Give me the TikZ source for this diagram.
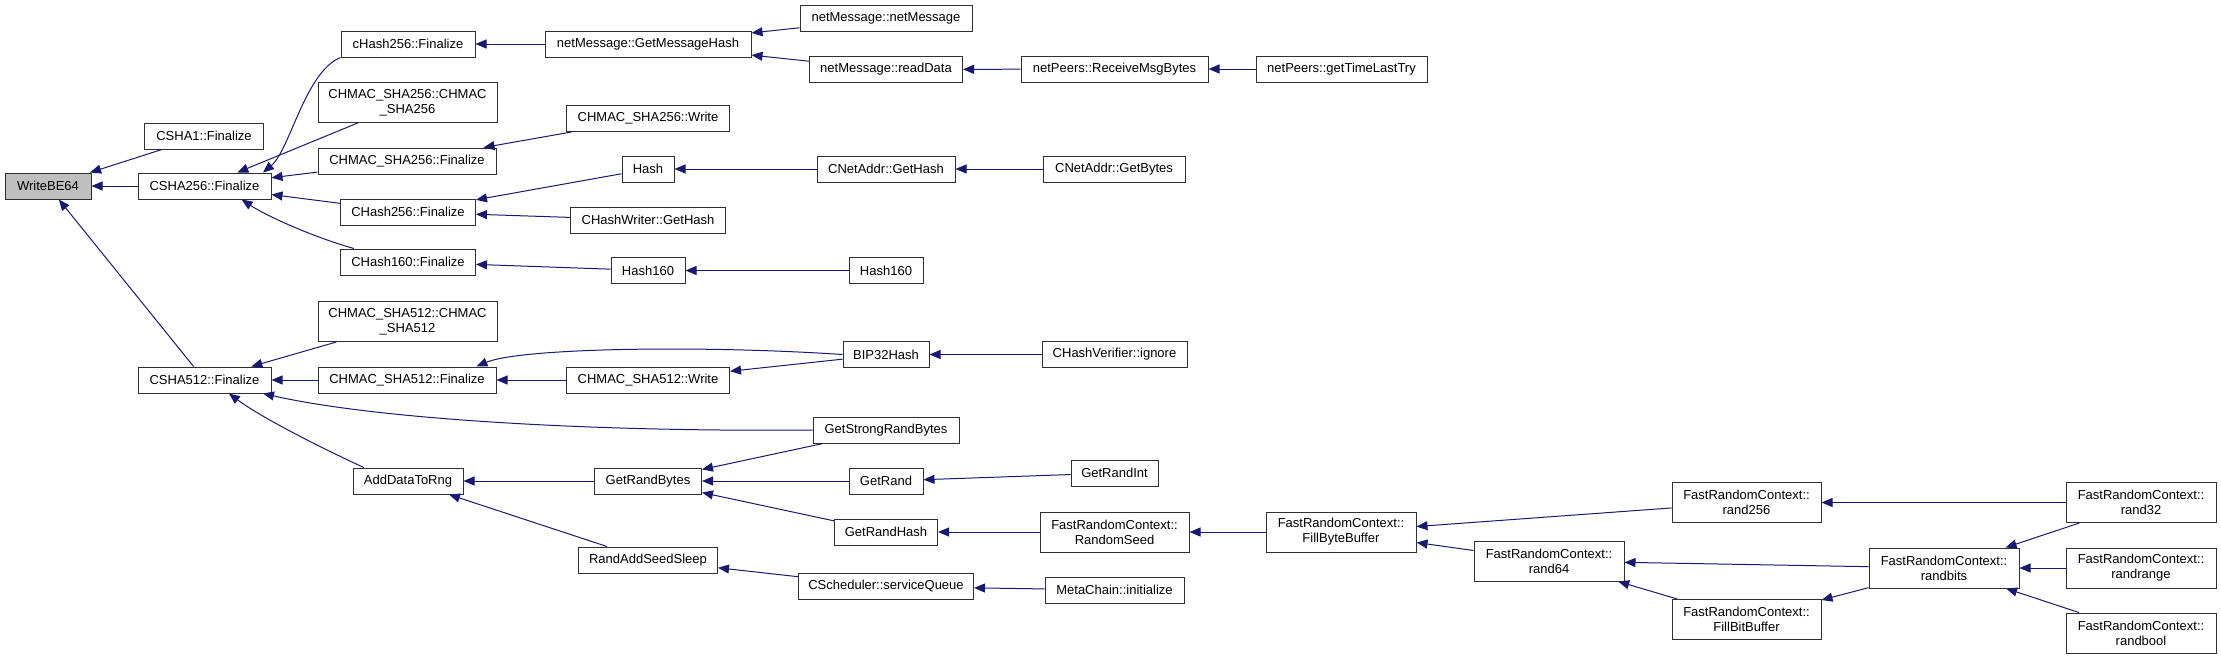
\documentclass[tikz,border=0pt]{standalone}
\usepackage{fontspec}
\setmainfont{Liberation Sans}
\usetikzlibrary{arrows.meta}
\definecolor{cgedge}{HTML}{191970}
\definecolor{cgroot}{HTML}{BFBFBF}
\definecolor{cgline}{HTML}{303030}

\begin{document}
\begin{tikzpicture}[
  x=1pt, y=-1pt,
  fn/.style={draw=cgline, line width=1pt, fill=white,
             font={\fontsize{13}{15}\selectfont}, align=center,
             inner sep=0pt, minimum height=26pt},
  fnroot/.style={fn, fill=cgroot},
  fntwo/.style={fn, minimum height=40pt},
  call/.style={-{Triangle[length=11pt,width=9pt]}, cgedge, line width=1pt},
]
\useasboundingbox (0,0) rectangle (2221,659);

%% ---- Spalte 1 und 2 ----
\node[fnroot, minimum width=86pt]  (writebe) at (48,186)    {WriteBE64};
\node[fn, minimum width=119pt]     (csha1)   at (204,136)   {CSHA1::Finalize};
\node[fn, minimum width=133pt]     (csha256) at (204.5,186) {CSHA256::Finalize};
\node[fn, minimum width=133pt]     (csha512) at (204.5,380) {CSHA512::Finalize};

%% ---- Spalte 3 ----
\node[fn, minimum width=134pt]    (chashlc)     at (408,44)      {cHash256::Finalize};
\node[fntwo, minimum width=179pt] (hmacctor)    at (407.5,102.5) {CHMAC\_SHA256::CHMAC\\\_SHA256};
\node[fn, minimum width=178pt]    (hmacfin)     at (407,161)     {CHMAC\_SHA256::Finalize};
\node[fn, minimum width=135pt]    (chash256)    at (408,212)     {CHash256::Finalize};
\node[fn, minimum width=135pt]    (chash160)    at (408,262)     {CHash160::Finalize};
\node[fntwo, minimum width=179pt] (hmac512ctor) at (407.5,321.5) {CHMAC\_SHA512::CHMAC\\\_SHA512};
\node[fn, minimum width=178pt]    (hmac512fin)  at (407,380)     {CHMAC\_SHA512::Finalize};
\node[fn, minimum width=110pt]    (adddata)     at (408,481)     {AddDataToRng};

%% ---- Spalte 4 ----
\node[fn, minimum width=206pt] (msghash)      at (648,44)    {netMessage::GetMessageHash};
\node[fn, minimum width=163pt] (hmacwrite)    at (648,118.5) {CHMAC\_SHA256::Write};
\node[fn, minimum width=52pt]  (hash)         at (648,169)   {Hash};
\node[fn, minimum width=155pt] (writerhash)   at (648,220)   {CHashWriter::GetHash};
\node[fn, minimum width=74pt]  (hashone)      at (648,270.5) {Hash160};
\node[fn, minimum width=163pt] (hmac512write) at (648,380)   {CHMAC\_SHA512::Write};
\node[fn, minimum width=107pt] (randbytes)    at (648,481)   {GetRandBytes};
\node[fn, minimum width=139pt] (seedsleep)    at (648,560)   {RandAddSeedSleep};

%% ---- Spalte 5 ----
\node[fn, minimum width=172pt] (netmsg)       at (886,18.5)  {netMessage::netMessage};
\node[fn, minimum width=153pt] (readdata)     at (886,69.5)  {netMessage::readData};
\node[fn, minimum width=138pt] (addrhash)     at (886,169)   {CNetAddr::GetHash};
\node[fn, minimum width=74pt]  (hashtwo)      at (886,270.5) {Hash160};
\node[fn, minimum width=86pt]  (bip32)        at (886,354.5) {BIP32Hash};
\node[fn, minimum width=146pt] (strongrand)   at (886,430)   {GetStrongRandBytes};
\node[fn, minimum width=74pt]  (getrand)      at (886,481)   {GetRand};
\node[fn, minimum width=103pt] (randhash)     at (886,532)   {GetRandHash};
\node[fn, minimum width=175pt] (servicequeue) at (886,586.5) {CScheduler::serviceQueue};

%% ---- Spalte 6 und 7 ----
\node[fn, minimum width=187pt]    (recvbytes)  at (1114.5,69)    {netPeers::ReceiveMsgBytes};
\node[fn, minimum width=142pt]    (addrbytes)  at (1114,169)     {CNetAddr::GetBytes};
\node[fn, minimum width=145pt]    (verifier)   at (1114.5,354.5) {CHashVerifier::ignore};
\node[fn, minimum width=87pt]     (randint)    at (1114.5,473)   {GetRandInt};
\node[fntwo, minimum width=149pt] (randomseed) at (1114.5,532)   {FastRandomContext::\\RandomSeed};
\node[fn, minimum width=139pt]    (metainit)   at (1114.5,590)   {MetaChain::initialize};
\node[fn, minimum width=171pt]    (lasttry)    at (1341.5,69)    {netPeers::getTimeLastTry};
\node[fntwo, minimum width=150pt] (fillbyte)   at (1341,532)     {FastRandomContext::\\FillByteBuffer};

%% ---- FastRandomContext rechts ----
\node[fntwo, minimum width=150pt] (rand64)    at (1549,561)     {FastRandomContext::\\rand64};
\node[fntwo, minimum width=149pt] (rand256)   at (1746.5,502.5) {FastRandomContext::\\rand256};
\node[fntwo, minimum width=149pt] (fillbit)   at (1746.5,619.5) {FastRandomContext::\\FillBitBuffer};
\node[fntwo, minimum width=150pt] (randbits)  at (1944,568)     {FastRandomContext::\\randbits};
\node[fntwo, minimum width=150pt] (rand32)    at (2141,502.5)   {FastRandomContext::\\rand32};
\node[fntwo, minimum width=150pt] (randrange) at (2141,568)     {FastRandomContext::\\randrange};
\node[fntwo, minimum width=150pt] (randbool)  at (2141,633)     {FastRandomContext::\\randbool};

%% ---- Aufrufe nach WriteBE64 und CSHA256 ----
\draw[call] (csha1) -- (writebe);
\draw[call] (csha256) -- (writebe);
\draw[call] (csha512) -- (writebe);
\draw[call] (chashlc.south west) .. controls (305,72) and (290,150) .. (csha256.13);
\draw[call] (hmacctor) -- (csha256);
\draw[call] (hmacfin) -- (csha256);
\draw[call] (chash256) -- (csha256);
\draw[call] (chash160.166) .. controls (310,236) and (265,215) .. (csha256.-20);

%% ---- obere Zweige ----
\draw[call] (msghash) -- (chashlc);
\draw[call] (netmsg) -- (msghash);
\draw[call] (readdata) -- (msghash);
\draw[call] (recvbytes) -- (readdata);
\draw[call] (lasttry) -- (recvbytes);
\draw[call] (hmacwrite) -- (hmacfin);
\draw[call] (hash) -- (chash256);
\draw[call] (writerhash) -- (chash256);
\draw[call] (addrhash) -- (hash);
\draw[call] (addrbytes) -- (addrhash);
\draw[call] (hashone) -- (chash160);
\draw[call] (hashtwo) -- (hashone);

%% ---- Aufrufe nach CSHA512 ----
\draw[call] (hmac512ctor) -- (csha512);
\draw[call] (hmac512fin) -- (csha512);
\draw[call] (strongrand.west) .. controls (600,432) and (380,420) .. (csha512.-13);
\draw[call] (adddata.163) .. controls (330,452) and (265,420) .. (csha512.-29);
\draw[call] (hmac512write) -- (hmac512fin);
\draw[call] (bip32.west) .. controls (700,345) and (520,348) .. (hmac512fin.11.5);
\draw[call] (bip32) -- (hmac512write);
\draw[call] (verifier) -- (bip32);

%% ---- Zufallszahlen ----
\draw[call] (randbytes) -- (adddata);
\draw[call] (seedsleep) -- (adddata);
\draw[call] (strongrand) -- (randbytes);
\draw[call] (getrand) -- (randbytes);
\draw[call] (randhash) -- (randbytes);
\draw[call] (randint) -- (getrand);
\draw[call] (randomseed) -- (randhash);
\draw[call] (fillbyte) -- (randomseed);
\draw[call] (servicequeue) -- (seedsleep);
\draw[call] (metainit) -- (servicequeue);
\draw[call] (rand256) -- (fillbyte);
\draw[call] (rand64) -- (fillbyte);
\draw[call] (rand32) -- (rand256);
\draw[call] (randbits) -- (rand64);
\draw[call] (fillbit) -- (rand64);
\draw[call] (randbits) -- (fillbit);
\draw[call] (rand32) -- (randbits);
\draw[call] (randrange) -- (randbits);
\draw[call] (randbool) -- (randbits);

\end{tikzpicture}
\end{document}
